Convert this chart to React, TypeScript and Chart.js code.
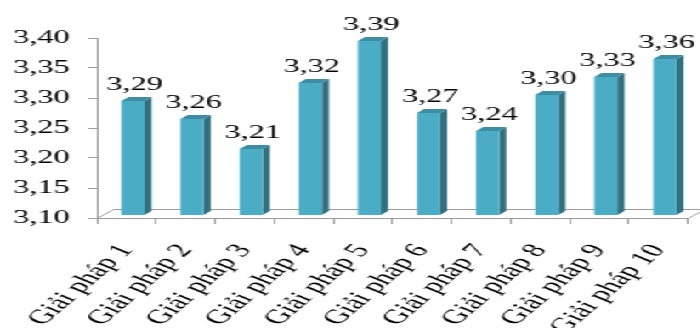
import { useEffect, useRef } from 'react';
import { Chart, registerables } from 'chart.js';

Chart.register(...registerables);

// Data
const categories = [
  'Giải pháp 1',
  'Giải pháp 2',
  'Giải pháp 3',
  'Giải pháp 4',
  'Giải pháp 5',
  'Giải pháp 6',
  'Giải pháp 7',
  'Giải pháp 8',
  'Giải pháp 9',
  'Giải pháp 10',
];
const scores = [3.29, 3.26, 3.21, 3.32, 3.39, 3.27, 3.24, 3.3, 3.33, 3.36];
const yMin = 3.1;
const yMax = 3.4;
const yStep = 0.05;

// Page geometry: the chart is drawn on a narrow canvas and widened horizontally.
const PAGE_W = 700;
const PAGE_H = 328;
const STRETCH = 1.7;
const CANVAS_W = Math.round(PAGE_W / STRETCH);

// 3D column styling
const FRONT = '#4bacc6';
const TOP = '#3d8ea5';
const SIDE = '#31707f';
const DEPTH_X = 4.2;
const DEPTH_Y = 4;
const SHIFT_X = 3.8;
const LIFT = 3;
const AXIS = '#9c9c9c';
const FONT = '"Liberation Serif", "Times New Roman", serif';

const fmt = (v: number) => v.toFixed(2).replace('.', ',');

const columns3d = {
  id: 'columns3d',
  beforeDatasetsDraw(chart: any) {
    const { ctx, chartArea } = chart;
    const { left, right, bottom } = chartArea;
    const fx = 10;
    const fy = 9;
    ctx.save();
    ctx.strokeStyle = AXIS;
    ctx.lineWidth = 1;
    ctx.beginPath();
    ctx.moveTo(left, bottom + 0.5);
    ctx.lineTo(left + fx, bottom - fy + 0.5);
    ctx.lineTo(right + fx, bottom - fy + 0.5);
    ctx.moveTo(right, bottom + 0.5);
    ctx.lineTo(right + fx, bottom - fy + 0.5);
    ctx.stroke();
    ctx.restore();
  },
  afterDatasetsDraw(chart: any) {
    const { ctx } = chart;
    const yScale = chart.scales.y;
    const floor = yScale.getPixelForValue(yMin);
    const meta = chart.getDatasetMeta(0);
    ctx.save();
    meta.data.forEach((bar: any, i: number) => {
      const { x, y, width } = bar.getProps(['x', 'y', 'width'], true);
      const l = x - width / 2 + SHIFT_X;
      const r = l + width;
      const t = y - LIFT;
      const b = floor - LIFT;
      // side face
      ctx.fillStyle = SIDE;
      ctx.beginPath();
      ctx.moveTo(r, t);
      ctx.lineTo(r + DEPTH_X, t - DEPTH_Y);
      ctx.lineTo(r + DEPTH_X, b - DEPTH_Y);
      ctx.lineTo(r, b);
      ctx.closePath();
      ctx.fill();
      // top face
      ctx.fillStyle = TOP;
      ctx.beginPath();
      ctx.moveTo(l, t);
      ctx.lineTo(l + DEPTH_X, t - DEPTH_Y);
      ctx.lineTo(r + DEPTH_X, t - DEPTH_Y);
      ctx.lineTo(r, t);
      ctx.closePath();
      ctx.fill();
      // front face
      ctx.fillStyle = FRONT;
      ctx.fillRect(l, t, width, b - t);
      // value label
      ctx.fillStyle = '#000';
      ctx.font = `19px ${FONT}`;
      ctx.textAlign = 'center';
      ctx.textBaseline = 'alphabetic';
      ctx.fillText(fmt(scores[i]), l + width / 2 + 1, t - 11);
    });
    ctx.restore();
  },
};

export default function App() {
  const canvasRef = useRef<HTMLCanvasElement | null>(null);

  useEffect(() => {
    document.body.style.margin = '0';
    const canvas = canvasRef.current;
    if (!canvas) return;
    const chart = new Chart(canvas, {
      type: 'bar',
      data: {
        labels: categories,
        datasets: [
          {
            data: scores,
            backgroundColor: 'rgba(0,0,0,0)',
            borderWidth: 0,
            categoryPercentage: 1,
            barPercentage: 0.39,
          },
        ],
      },
      options: {
        responsive: false,
        animation: false,
        devicePixelRatio: 1,
        layout: { padding: { top: 38, right: CANVAS_W - 404.7, bottom: 0, left: 0 } },
        plugins: {
          legend: { display: false },
          tooltip: { enabled: false },
        },
        scales: {
          x: {
            grid: {
              display: true,
              drawOnChartArea: false,
              drawTicks: true,
              tickLength: 6,
              color: AXIS,
            },
            border: { display: true, color: AXIS },
            ticks: {
              color: '#000',
              font: { family: FONT, size: 20 },
              minRotation: 55,
              maxRotation: 55,
              padding: 16,
              autoSkip: false,
            },
            afterFit: (scale: any) => {
              scale.height = 110;
              // rotated labels may overflow the edges; keep the plot width fixed
              scale.paddingLeft = 0;
              scale.paddingRight = 0;
            },
          },
          y: {
            min: yMin,
            max: yMax,
            grid: {
              display: true,
              drawOnChartArea: false,
              drawTicks: true,
              tickLength: 5,
              color: AXIS,
            },
            border: { display: true, color: AXIS },
            ticks: {
              stepSize: yStep,
              color: '#000',
              font: { family: FONT, size: 19 },
              padding: 11,
              callback: (v: any) => fmt(Number(v)),
            },
            afterFit: (scale: any) => {
              scale.width = 57;
            },
          },
        },
      },
      plugins: [columns3d],
    });
    return () => chart.destroy();
  }, []);

  return (
    <div
      style={{
        position: 'fixed',
        left: 0,
        top: 0,
        width: CANVAS_W,
        height: PAGE_H,
        transform: `scaleX(${STRETCH})`,
        transformOrigin: '0 0',
        background: '#fff',
      }}
    >
      <canvas ref={canvasRef} width={CANVAS_W} height={PAGE_H} />
    </div>
  );
}
